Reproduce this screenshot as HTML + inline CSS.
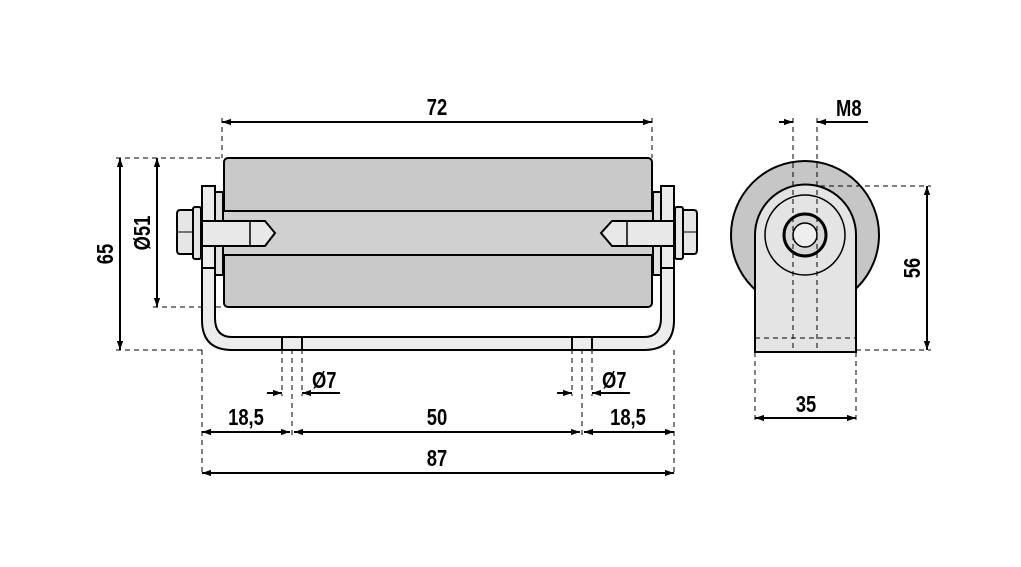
<!DOCTYPE html>
<html><head><style>
html,body{margin:0;padding:0;background:#fff;}
svg{display:block;}
text{font-family:"Liberation Sans",sans-serif;font-size:23px;font-weight:bold;fill:#000;}
</style></head><body>
<svg width="1021" height="567" viewBox="0 0 1021 567" xmlns="http://www.w3.org/2000/svg">
<defs>
<marker id="a" viewBox="0 0 10 10" refX="10" refY="5" markerWidth="9" markerHeight="9" orient="auto-start-reverse" markerUnits="userSpaceOnUse"><path d="M0,1.5 L10,5 L0,8.5 Z" fill="#000"/></marker>
</defs>
<g fill="none" stroke="#000" stroke-width="1" stroke-dasharray="5,4">
<line x1="222" y1="118" x2="222" y2="158"/>
<line x1="652" y1="118" x2="652" y2="158"/>
<line x1="116" y1="158" x2="222" y2="158"/>
<line x1="116" y1="350" x2="205" y2="350"/>
<line x1="153" y1="307" x2="224" y2="307"/>
<line x1="202" y1="350" x2="202" y2="476"/>
<line x1="674" y1="350" x2="674" y2="476"/>
<line x1="282" y1="340" x2="282" y2="396"/>
<line x1="292" y1="340" x2="292" y2="436"/>
<line x1="302" y1="340" x2="302" y2="396"/>
<line x1="572" y1="340" x2="572" y2="396"/>
<line x1="582" y1="340" x2="582" y2="436"/>
<line x1="592" y1="340" x2="592" y2="396"/>
</g>
<g stroke="#000" stroke-width="2">
<rect x="224" y="158" width="428" height="149" rx="4" fill="#c9c9c9"/>
<rect x="210" y="211" width="452" height="44" fill="#d0d0d0"/>
<path d="M202,262 V320 Q202,350 232,350 H644 Q674,350 674,320 V262 H661 V318 Q661,337 644,337 H232 Q215,337 215,318 V262 Z" fill="#ececec"/>
<line x1="282" y1="337" x2="282" y2="350"/><line x1="302" y1="337" x2="302" y2="350"/>
<line x1="572" y1="337" x2="572" y2="350"/><line x1="592" y1="337" x2="592" y2="350"/>
<rect x="215" y="192" width="8" height="83" fill="#e0e0e0"/>
<rect x="202" y="186" width="13" height="82" fill="#ececec"/>
<rect x="653" y="192" width="8" height="83" fill="#e0e0e0"/>
<rect x="661" y="186" width="13" height="82" fill="#ececec"/>
<rect x="193" y="207" width="8" height="52" rx="2" fill="#e6e6e6"/>
<path d="M180,210 H193 V254 H180 Q177,254 177,250 V214 Q177,210 180,210 Z" fill="#e6e6e6"/>
<line x1="178" y1="232" x2="193" y2="232" stroke-width="1"/>
<path d="M202,221 H265 L275,233 L265,246 H202 Z" fill="#e8e8e8"/>
<line x1="250" y1="221" x2="250" y2="246" stroke-width="1.5"/>
<rect x="675" y="207" width="8" height="52" rx="2" fill="#e6e6e6"/>
<path d="M683,210 H694 Q697,210 697,214 V250 Q697,254 694,254 H683 Z" fill="#e6e6e6"/>
<line x1="683" y1="232" x2="697" y2="232" stroke-width="1"/>
<path d="M674,221 H612 L601,233 L612,246 H674 Z" fill="#e8e8e8"/>
<line x1="627" y1="221" x2="627" y2="246" stroke-width="1.5"/>
</g>
<g stroke="#000" stroke-width="2">
<circle cx="805" cy="235" r="74" fill="#c6c6c6"/>
<path d="M755,352 V235 A50,50 0 0 1 856,235 V352 Z" fill="#e4e4e4"/>
<circle cx="805" cy="235" r="40" fill="#e4e4e4" stroke-width="1.5"/>
<circle cx="805" cy="235" r="21" fill="#d8d8d8" stroke-width="3"/>
<circle cx="805" cy="235" r="12" fill="#eee" stroke-width="1.5"/>
</g>
<g fill="none" stroke="#000" stroke-width="1" stroke-dasharray="5,4">
<line x1="793" y1="118" x2="793" y2="352"/>
<line x1="817" y1="118" x2="817" y2="352"/>
<line x1="755" y1="338" x2="856" y2="338"/>
<line x1="820" y1="186" x2="931" y2="186"/>
<line x1="856" y1="350" x2="931" y2="350"/>
<line x1="755" y1="352" x2="755" y2="421"/>
<line x1="856" y1="352" x2="856" y2="421"/>
</g>
<g stroke="#000" stroke-width="2" fill="none">
<line x1="222" y1="122" x2="652" y2="122" marker-start="url(#a)" marker-end="url(#a)"/>
<line x1="120" y1="158" x2="120" y2="350" marker-start="url(#a)" marker-end="url(#a)"/>
<line x1="157" y1="158" x2="157" y2="307" marker-start="url(#a)" marker-end="url(#a)"/>
<line x1="267" y1="393" x2="282" y2="393" marker-end="url(#a)"/>
<line x1="340" y1="393" x2="302" y2="393" marker-end="url(#a)"/>
<line x1="557" y1="393" x2="572" y2="393" marker-end="url(#a)"/>
<line x1="630" y1="393" x2="592" y2="393" marker-end="url(#a)"/>
<line x1="202" y1="432" x2="290" y2="432" marker-start="url(#a)" marker-end="url(#a)"/>
<line x1="294" y1="432" x2="580" y2="432" marker-start="url(#a)" marker-end="url(#a)"/>
<line x1="584" y1="432" x2="674" y2="432" marker-start="url(#a)" marker-end="url(#a)"/>
<line x1="202" y1="473" x2="674" y2="473" marker-start="url(#a)" marker-end="url(#a)"/>
<line x1="779" y1="122" x2="793" y2="122" marker-end="url(#a)"/>
<line x1="868" y1="122" x2="817" y2="122" marker-end="url(#a)"/>
<line x1="927" y1="186" x2="927" y2="350" marker-start="url(#a)" marker-end="url(#a)"/>
<line x1="755" y1="418" x2="856" y2="418" marker-start="url(#a)" marker-end="url(#a)"/>
</g>
<g>
<text transform="translate(437,115) scale(0.8,1)" text-anchor="middle">72</text>
<text transform="translate(246,425) scale(0.8,1)" text-anchor="middle">18,5</text>
<text transform="translate(437,425) scale(0.8,1)" text-anchor="middle">50</text>
<text transform="translate(628,425) scale(0.8,1)" text-anchor="middle">18,5</text>
<text transform="translate(437,466) scale(0.8,1)" text-anchor="middle">87</text>
<text transform="translate(312,388) scale(0.8,1)">Ø7</text>
<text transform="translate(602,388) scale(0.8,1)">Ø7</text>
<text transform="translate(836,116) scale(0.8,1)">M8</text>
<text transform="translate(806,412) scale(0.8,1)" text-anchor="middle">35</text>
<text transform="translate(113,254) rotate(-90) scale(0.8,1)" text-anchor="middle">65</text>
<text transform="translate(150,233) rotate(-90) scale(0.8,1)" text-anchor="middle">Ø51</text>
<text transform="translate(920,268) rotate(-90) scale(0.8,1)" text-anchor="middle">56</text>
</g>
</svg>
</body></html>
